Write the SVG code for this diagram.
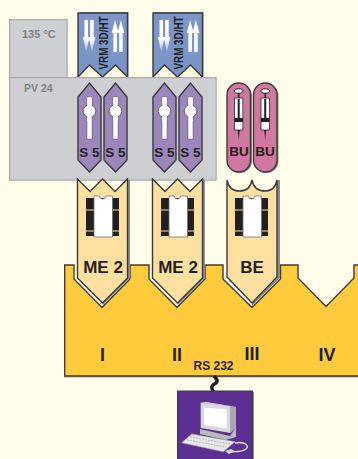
<svg xmlns="http://www.w3.org/2000/svg" width="358" height="459" viewBox="0 0 358 459">
<style>
text{font-family:"Liberation Sans",Arial,sans-serif;font-weight:700;fill:#231f20}
.g{fill:#808285}
.box{fill:#cdcfd3;stroke:#a7a9ac;stroke-width:1.2}
.ol{stroke:#3a3a3c;stroke-width:1.4;stroke-linejoin:miter}
.m{text-anchor:middle}
.shade{fill:#8a8b8e}
.wh{fill:#fff}
</style>
<defs>
<linearGradient id="dn" x1="0" y1="0" x2="0" y2="1"><stop offset="0.6" stop-color="#fff"/><stop offset="1" stop-color="#fff" stop-opacity=".25"/></linearGradient>
<linearGradient id="ndl" x1="0" y1="0" x2="0" y2="1"><stop offset="0" stop-color="#231f20"/><stop offset="1" stop-color="#231f20" stop-opacity="0"/></linearGradient>
<g id="vrm">
<path d="M0,64H50V-1H2z" fill="#8a8b8e" transform="translate(0.5,0)"/>
<path d="M0,64 L12,52 L24,58 L38,52 L50,64z" fill="#fff9e2"/>
<path d="M0,0H49.5V64L37.5,52L24.5,64L11.5,52L0,64z" fill="#7b95c6" class="ol"/>
<path d="M6.5,7h3.5v17h1.6L8.2,39L4.9,24h1.6z" fill="url(#dn)"/>
<path d="M12.2,7h3.5v17h1.6L14,39L10.6,24h1.6z" fill="url(#dn)"/>
<path d="M35.4,39h3.5V20h1.7L37.1,7L33.7,20h1.7z" fill="#fff"/>
<path d="M41.2,39h3.5V20h1.7L42.9,7L39.5,20h1.7z" fill="#fff"/>
</g>
<g id="s5">
<path d="M0,14L11.5,0L23,14V77L11.5,89L0,77z" fill="#9d86bc" class="ol"/>
<path d="M9,14h5v42h-5z" fill="#fff" stroke="#3a3a3c" stroke-width=".4"/>
<circle cx="11.5" cy="28" r="6.3" fill="#fff" stroke="#3a3a3c" stroke-width=".7"/>
<path d="M9.3,14.3h4.4V38h-4.4z" fill="#fff"/>
</g>
<g id="bu">
<rect x="1" y="1" width="24" height="89" rx="12" fill="#8a8b8e"/>
<rect x="0" y="0" width="23.5" height="89" rx="11.7" fill="#d0789f" class="ol"/>
<ellipse cx="11.7" cy="8" rx="4.3" ry="2.2" fill="#fff" stroke="#231f20"/>
<path d="M11.7,10V16" stroke="#231f20" stroke-width="1.5"/>
<rect x="7.5" y="15" width="8.4" height="32" fill="#fff" stroke="#3a3a3c" stroke-width=".9"/>
<path d="M11.7,16V36" stroke="#231f20" stroke-width="2"/>
<path d="M7.5,35h8.4v4h-8.4z" fill="#231f20"/>
<path d="M10.7,47h2l-1,14z" fill="url(#ndl)"/>
</g>
<g id="slot-chip">
<rect x="0" y="0" width="33" height="38" fill="#231f20"/>
<path d="M0,12H33M0,33H33" stroke="#fde0a0" stroke-width="1"/>
<path d="M8,-2h5q1,3 3.5,3t3.5,-3h6.5V39H8z" fill="#fff" stroke="#6d6e71" stroke-width=".8"/>
</g>
</defs>
<rect width="358" height="459" fill="#fffdea"/>

<g id="panel">
<path d="M64.700,265H74V279L102,307.500L130,279V265H149V279L177,307.500L205,279V265H223V279L252,307.500L280.500,279V265H298V278L326,306.500L354,278V265H359V376H64.700z" fill="#ffcb3d" stroke="#3f3d35" stroke-width="1.400"/>
<path d="M64,376.500H358" stroke="#57554a" stroke-width="1.500"/>
<text class="m" x="102.500" y="360.500" font-size="18">I</text>
<text class="m" x="177" y="360.500" font-size="18">II</text>
<text class="m" x="252" y="360" font-size="18">III</text>
<text class="m" x="327" y="360.500" font-size="18">IV</text>
<text class="m" x="213.500" y="370" font-size="12">RS 232</text>
</g>

<g id="temp-135"><rect class="box" x="9.600" y="19.600" width="57.500" height="60"/><text class="g" x="22" y="38" font-size="11">135 °C</text></g>
<g id="vrm-1"><use href="#vrm" x="78" y="13"/><text transform="translate(107.500,69.500) rotate(-90)" font-size="13" textLength="53" lengthAdjust="spacingAndGlyphs">VRM 3D/HT</text></g>
<g id="vrm-2"><use href="#vrm" x="153" y="13"/><text transform="translate(182.500,69.500) rotate(-90)" font-size="13" textLength="53" lengthAdjust="spacingAndGlyphs">VRM 3D/HT</text></g>
<g id="pv-24"><rect class="box" x="9.600" y="77.600" width="206.500" height="102.500"/><text class="g" x="24" y="92" font-size="10.500">PV 24</text></g>

<g id="s5-1"><use href="#s5" x="78" y="83"/><text class="m" x="89.500" y="157" font-size="13.500">S 5</text></g>
<g id="s5-2"><use href="#s5" x="104" y="83"/><text class="m" x="115.500" y="157" font-size="13.500">S 5</text></g>
<g id="s5-3"><use href="#s5" x="153" y="83"/><text class="m" x="164.500" y="157" font-size="13.500">S 5</text></g>
<g id="s5-4"><use href="#s5" x="179" y="83"/><text class="m" x="190.500" y="157" font-size="13.500">S 5</text></g>
<g id="bu-1"><use href="#bu" x="227" y="83"/><text class="m" x="239" y="156" font-size="13.500">BU</text></g>
<g id="bu-2"><use href="#bu" x="253.500" y="83"/><text class="m" x="265" y="156" font-size="13.500">BU</text></g>

<g id="me2-1">
<path d="M130,180V278L103,305L100,303L127,278V180z" class="shade"/>
<path d="M76,278L103,305.500V303L78,278z" class="wh"/>
<path d="M77.500,179L90,191.500L102.500,179L115,191.500L127.500,179V278L102.500,303L77.500,278z" fill="#fde0a0" class="ol"/>
<use href="#slot-chip" x="86" y="198"/>
<text class="m" x="103" y="273" font-size="17">ME 2</text>
</g>
<g id="me2-2">
<path d="M205,180V278L178,305L175,303L202,278V180z" class="shade"/>
<path d="M151,278L178,305.500V303L153,278z" class="wh"/>
<path d="M152.500,179L165,191.500L177.500,179L190,191.500L202.500,179V278L177.500,303L152.500,278z" fill="#fde0a0" class="ol"/>
<use href="#slot-chip" x="161" y="198"/>
<text class="m" x="178" y="273" font-size="17">ME 2</text>
</g>
<g id="be">
<path d="M280,180V278L252,306L249,303L277,278V180z" class="shade"/>
<path d="M225,278L252,306V303L227,278z" class="wh"/>
<path d="M227,180Q229,191 239.500,191Q250,191 252,180Q254,191 265,191Q275,191 277,180V277L252,303L227,277z" fill="#fde0a0" class="ol"/>
<use href="#slot-chip" x="235" y="198"/>
<text class="m" x="252" y="273" font-size="17">BE</text>
</g>

<g id="connectors">
<path d="M214,376C218,380 218,382 214.500,384C211,386 211,389 214,392" fill="none" stroke="#231f20" stroke-width="3.500"/>
</g>

<g id="computer">
<rect x="179" y="392" width="75" height="68" fill="#8a8b8e"/>
<rect x="177.500" y="391" width="75" height="69" fill="#5c2f92" stroke="#3a3a3c" stroke-width="1"/>
<path d="M200,429L230,436L236,427V437L226,440L200,434z" fill="#b9babc"/>
<path d="M200.700,402.700L230.700,406V433L200.700,428z" fill="#d8d9da"/>
<path d="M200.700,402.700L206,402L236,406.700L230.700,406z" fill="#eeeeee"/>
<path d="M204,407.700L226.700,409.300V428.300L204,425z" fill="#fff"/>
<path d="M230.700,406L236,406.700V427.300L230.700,433z" fill="#a8a9ab"/>
<path d="M191.700,434L235,441.700L223.300,451.700L181.700,442.700z" fill="#e8e8e9" stroke="#a8a9ab" stroke-width=".6"/>
<path d="M190,437L230,444M187,440L226,447" stroke="#9c9da0" stroke-width=".7" stroke-dasharray="2 1"/>
<path d="M235,443C245,441 250,446 246,449C241,453 235,451 229,452" fill="none" stroke="#e0e0e1" stroke-width="1.300"/>
<path d="M225,451l6,-2l4,2l-6,3z" fill="#d8d9da"/>
</g>
</svg>
